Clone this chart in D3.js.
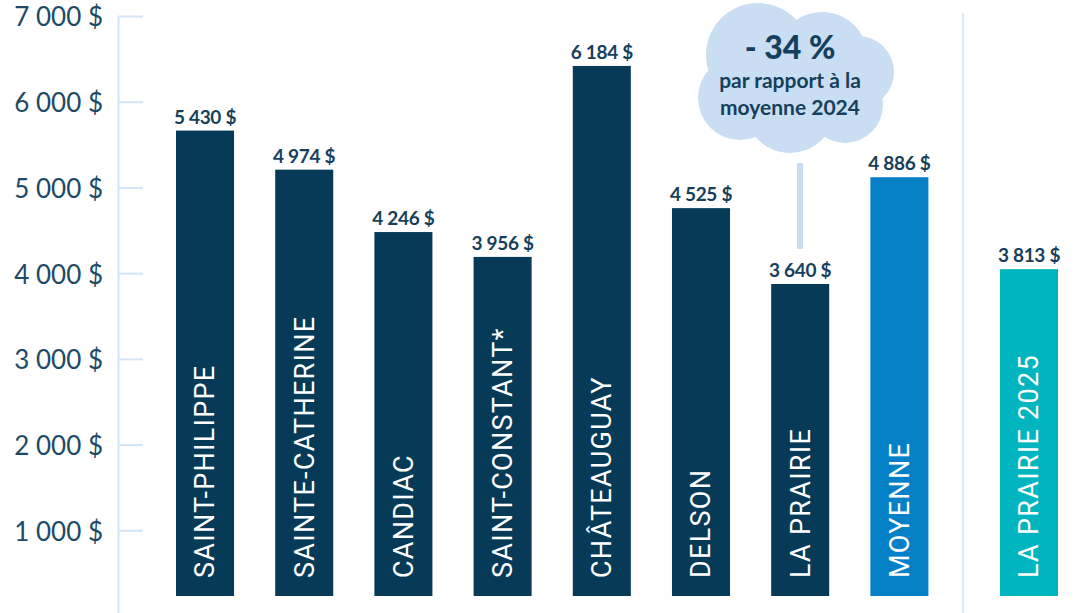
<!DOCTYPE html>
<html>
<head>
<meta charset="utf-8">
<script src="https://cdn.jsdelivr.net/npm/d3@7"></script>
<style>
  body { margin: 0; background: #fff; }
  svg { display: block; }
</style>
</head>
<body>
<div id="chart"></div>
<script>
// data
var categories = ["SAINT-PHILIPPE", "SAINTE-CATHERINE", "CANDIAC", "SAINT-CONSTANT*",
                  "CHÂTEAUGUAY", "DELSON", "LA PRAIRIE", "MOYENNE"];
var values = [5430, 4974, 4246, 3956, 6184, 4525, 3640, 4886];
var extraCategories = ["LA PRAIRIE 2025"];
var extraValues = [3813];
var tickValues = [1000, 2000, 3000, 4000, 5000, 6000, 7000];
var note = ["- 34 %", "par rapport à la", "moyenne 2024"];

var width = 1091, height = 613;

var svg = d3.select("#chart")
  .append("svg")
    .attr("width", width)
    .attr("height", height);

var fr = d3.formatLocale({decimal: ",", thousands: "\u00a0", grouping: [3], currency: ["", "\u00a0$"]});
var fmt = fr.format("$,.0f");

var y = d3.scaleLinear()
  .domain([0, 7000])
  .range([596, -4]);

var x = d3.scaleBand()
  .domain(categories)
  .range([176, 928.4])
  .paddingInner(0.415)
  .paddingOuter(0);

var x2 = d3.scaleBand()
  .domain(extraCategories)
  .range([1000, 1058]);

var colour = function(d) {
  if (d == "MOYENNE") return "#0580c6";
  if (d == "LA PRAIRIE 2025") return "#00b5bf";
  return "#073a57";
};

// axis (sits 20px lower than the bars, as in the original)
var yAxis = g => g
  .attr("transform", "translate(118,20)")
  .call(d3.axisLeft(y).tickValues(tickValues).tickFormat(fmt)
        .tickSizeInner(-25).tickSizeOuter(0).tickPadding(15))
  .call(g => g.selectAll("line").attr("stroke", "#d3e5f6").attr("stroke-width", 2))
  .call(g => g.select(".domain").attr("stroke", "#d3e5f6").attr("stroke-width", 2))
  .call(g => g.selectAll("text")
        .attr("fill", "#1d4a66")
        .attr("font-family", "Lato, sans-serif")
        .attr("font-size", 26)
        .attr("dy", "0.38em"));

svg.append("g").call(yAxis);

// separator before 2025
svg.append("line")
  .attr("x1", 963).attr("x2", 963)
  .attr("y1", 13).attr("y2", height)
  .attr("stroke", "#dde9f6")
  .attr("stroke-width", 2);

var all = categories.map((c, i) => ({name: c, value: values[i], x: x(c), w: x.bandwidth()}))
  .concat(extraCategories.map((c, i) => ({name: c, value: extraValues[i], x: x2(c), w: x2.bandwidth()})));

svg.append("g")
  .selectAll("rect")
  .data(all)
  .join("rect")
    .attr("x", d => d.x)
    .attr("y", d => y(d.value))
    .attr("width", d => d.w)
    .attr("height", d => y(0) - y(d.value))
    .attr("fill", d => colour(d.name));

// value labels
svg.append("g")
  .attr("fill", "#163f5c")
  .attr("font-family", "Lato, sans-serif")
  .attr("font-weight", "bold")
  .attr("font-size", 19)
  .attr("letter-spacing", -0.3)
  .attr("text-anchor", "middle")
  .selectAll("text")
  .data(all)
  .join("text")
    .attr("x", d => d.x + d.w / 2)
    .attr("y", d => y(d.value) - 7)
    .text(d => fmt(d.value));

// names inside bars
svg.append("g")
  .attr("fill", "#fff")
  .attr("font-family", "Roboto, sans-serif")
  .attr("font-size", 27)
  .attr("letter-spacing", 1.3)
  .selectAll("text")
  .data(all)
  .join("text")
    .attr("transform", d => "translate(" + (d.x + d.w / 2) + ",578) rotate(-90)")
    .attr("dy", "0.35em")
    .text(d => d.name);

// cloud callout
var cx = 790;
var cloud = svg.append("g").attr("fill", "#c9def2");
[[758, 55, 52], [822, 58, 46], [858, 72, 36], [740, 98, 42], [790, 108, 45], [845, 105, 38], [800, 80, 55]]
  .forEach(c => cloud.append("circle").attr("cx", c[0]).attr("cy", c[1]).attr("r", c[2]));

svg.append("rect")
  .attr("x", 797).attr("y", 163)
  .attr("width", 6).attr("height", 86)
  .attr("fill", "#c9def2");

svg.append("text")
  .attr("x", cx).attr("y", 59)
  .attr("text-anchor", "middle")
  .attr("font-family", "Lato, sans-serif")
  .attr("font-weight", "900")
  .attr("font-size", 32)
  .attr("fill", "#163f5c")
  .text(note[0]);

svg.append("g")
  .attr("font-family", "Lato, sans-serif")
  .attr("font-weight", "bold")
  .attr("font-size", 21)
  .attr("fill", "#163f5c")
  .attr("text-anchor", "middle")
  .selectAll("text")
  .data(note.slice(1))
  .join("text")
    .attr("x", cx)
    .attr("y", (d, i) => 88 + i * 27)
    .text(d => d);
</script>
</body>
</html>
